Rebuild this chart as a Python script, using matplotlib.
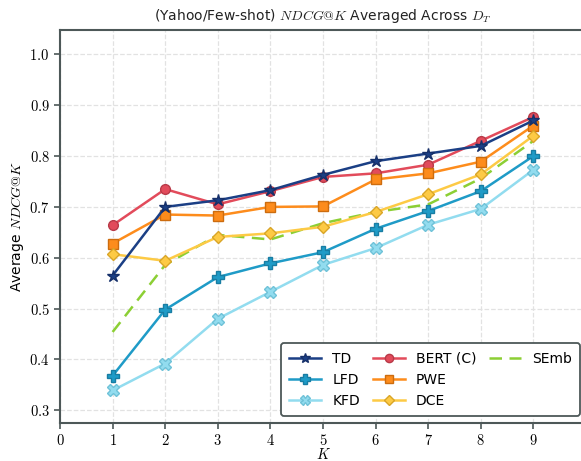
import matplotlib
matplotlib.use("Agg")
import matplotlib.pyplot as plt
from matplotlib.lines import Line2D
from matplotlib.ticker import FuncFormatter, MultipleLocator, FixedLocator

plt.rcParams['mathtext.fontset'] = 'cm'
plt.rcParams['font.family'] = ['DejaVu Sans']

K = [1, 2, 3, 4, 5, 6, 7, 8, 9]

td = [0.565, 0.700, 0.713, 0.733, 0.763, 0.790, 0.805, 0.820, 0.870]
lfd = [0.368, 0.498, 0.562, 0.589, 0.611, 0.657, 0.692, 0.731, 0.800]
kfd = [0.339, 0.392, 0.480, 0.533, 0.586, 0.619, 0.665, 0.696, 0.773]
bert = [0.664, 0.735, 0.705, 0.731, 0.759, 0.766, 0.783, 0.830, 0.877]
pwe = [0.628, 0.685, 0.683, 0.700, 0.701, 0.754, 0.766, 0.789, 0.860]
dce = [0.607, 0.594, 0.641, 0.648, 0.661, 0.690, 0.725, 0.764, 0.840]
semb = [0.454, 0.586, 0.645, 0.636, 0.668, 0.690, 0.705, 0.756, 0.830]

fig = plt.figure(figsize=(5.81, 4.61), dpi=100)
# axes runs a bit past the right edge of the figure
ax = fig.add_axes([0.1033, 0.0824, 0.9053, 0.8526])

lw = 1.8
ax.plot(K, td, color='#1b3f85', marker='*', ms=9, lw=lw, mec='#16306a', label='TD', zorder=5)
ax.plot(K, lfd, color='#1f9bc7', marker='P', ms=8, lw=lw, mec='#187da3', label='LFD', zorder=4)
ax.plot(K, kfd, color='#92dcef', marker='X', ms=8, lw=lw, mec='#6fc2d8', label='KFD', zorder=3)
ax.plot(K, bert, color='#e24b5b', marker='o', ms=7, lw=lw, mec='#b83a48', label='BERT (C)', zorder=4)
ax.plot(K, pwe, color='#fd8c1c', marker='s', ms=7, lw=lw, mec='#cc6c0f', label='PWE', zorder=4)
ax.plot(K, dce, color='#fdca45', marker='D', ms=6.5, lw=lw, mec='#d9a527', label='DCE', zorder=4)
ax.plot(K, semb, color='#8ccf34', ls='--', lw=lw, dashes=(5, 3), label='SEmb', zorder=3)

ax.set_xlim(0, 10)
ax.set_ylim(0.275, 1.048)
ax.xaxis.set_major_locator(FixedLocator(range(10)))
ax.yaxis.set_major_locator(MultipleLocator(0.1))
ax.xaxis.set_major_formatter(FuncFormatter(lambda v, p: r'$%d$' % v))
ax.yaxis.set_major_formatter(FuncFormatter(lambda v, p: r'$%.1f$' % v))
ax.tick_params(labelsize=10.5, length=4, width=1.2, color='#4d5858', direction='out')

ax.grid(True, ls='--', color='#e2e2e2', lw=0.9)
ax.set_axisbelow(True)
for s in ax.spines.values():
    s.set_color('#4d5858')
    s.set_linewidth(1.5)

ax.set_title(r'(Yahoo/Few-shot) $NDCG@K$ Averaged Across $D_T$', fontsize=10, color='#222222', pad=7)
ax.set_xlabel(r'$K$', fontsize=10.5, labelpad=-1)
ax.set_ylabel(r'Average $NDCG@K$', fontsize=10, labelpad=2)

# 3-3-1 column layout: pad third column with blanks
handles, labels = ax.get_legend_handles_labels()
blank = Line2D([], [], alpha=0)
handles += [blank, blank]
labels += ['', '']
leg = ax.legend(handles, labels, ncol=3, loc='lower right', fontsize=10, frameon=True,
                fancybox=True, borderpad=0.6, handlelength=2.3, columnspacing=0.9,
                borderaxespad=0, markerscale=0.85,
                bbox_to_anchor=(580 / 581, 1 - 416 / 461),
                bbox_transform=fig.transFigure)
leg.get_frame().set_edgecolor('#4d5858')
leg.get_frame().set_linewidth(1.3)
leg.get_frame().set_alpha(1)

fig.savefig('out.png', dpi=100)
